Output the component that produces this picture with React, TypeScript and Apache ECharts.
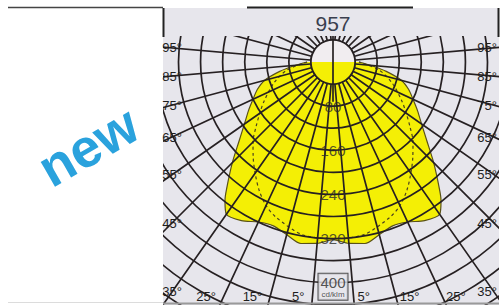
import React, { useEffect, useRef } from "react";
import * as echarts from "echarts";

const titleText = "957";
const unitText = "cd/klm";
const badgeText = "new";
const ringLabels = [80, 160, 240, 320, 400];
// C0-C180 plane: gamma (deg, 0 = straight down) vs intensity (cd/klm)
const gammaMain = [0, 5, 10, 15, 20, 25, 30, 35, 38, 40, 45, 50, 55, 60, 65, 70, 75, 80, 85, 90];
const intensityMain = [322, 330, 334, 324, 316, 320, 332, 337, 318, 300, 258, 222, 196, 177, 160, 146, 128, 98, 68, 47];
// C90-C270 plane (dashed)
const gammaSecond = [0, 10, 20, 25, 30, 35, 40, 45, 50, 55, 60, 70, 80, 90];
const intensitySecond = [320, 318, 300, 287, 268, 246, 225, 205, 182, 162, 145, 115, 85, 47];
const sideAngleLabels = [95, 85, 75, 65, 55, 45, 35];
const bottomAngleLabels = [25, 15, 5];

const CX = 333;
const CY = 62;
const R_MAX = 560;
const R_PX = 309;

const phiOf = (theta: number) => (((theta - 5) % 360) + 360) % 360;

function mirrored(gammas: number[], vals: number[]) {
  const out: number[][] = [];
  for (let i = gammas.length - 1; i >= 0; i--) out.push([vals[i], phiOf(gammas[i])]);
  for (let i = 1; i < gammas.length; i++) out.push([vals[i], phiOf(-gammas[i])]);
  return out;
}

export default function App() {
  const ref = useRef<HTMLDivElement>(null);
  useEffect(() => {
    const chart = echarts.init(ref.current!, null, { renderer: "svg" });
    const gridColor = "#262022";
    const bg = "#e7e6ec";
    const font = "Liberation Sans, Arial, sans-serif";

    const topHalf: number[][] = [];
    for (let t = 90; t <= 270; t += 10) topHalf.push([40, phiOf(t)]);
    const bottomHalf: number[][] = [];
    for (let t = 90; t >= -90; t -= 10) bottomHalf.push([40, phiOf(t)]);

    const graphics: any[] = [
      { type: "rect", z: 0, shape: { x: 163, y: 8, width: 336, height: 297 }, style: { fill: bg } },
      { type: "rect", z: 50, shape: { x: 0, y: 0, width: 163, height: 305 }, style: { fill: "#ffffff" } },
      { type: "rect", z: 50, shape: { x: 0, y: 0, width: 502, height: 8 }, style: { fill: "#ffffff" } },
      { type: "rect", z: 50, shape: { x: 499, y: 0, width: 3, height: 305 }, style: { fill: "#ffffff" } },
      { type: "rect", z: 50, shape: { x: 163, y: 8, width: 336, height: 28 }, style: { fill: bg } },
      { type: "line", z: 51, shape: { x1: 8, y1: 302.5, x2: 163, y2: 302.5 }, style: { stroke: "#dcdcdc", lineWidth: 1 } },
      { type: "line", z: 52, shape: { x1: 8, y1: 7.5, x2: 163, y2: 7.5 }, style: { stroke: "#444", lineWidth: 1.5 } },
      { type: "line", z: 52, shape: { x1: 247, y1: 7.5, x2: 413, y2: 7.5 }, style: { stroke: "#222", lineWidth: 2 } },
      { type: "line", z: 52, shape: { x1: 163.5, y1: 8, x2: 163.5, y2: 37 }, style: { stroke: "#222", lineWidth: 2 } },
      { type: "line", z: 52, shape: { x1: 498.5, y1: 8, x2: 498.5, y2: 37 }, style: { stroke: "#222", lineWidth: 2 } },
      { type: "line", z: 52, shape: { x1: 163, y1: 303.5, x2: 499, y2: 303.5 }, style: { stroke: "#9a9a9a", lineWidth: 2 } },
      {
        type: "text", z: 60, x: CX, y: 23,
        style: { text: titleText, font: `21px ${font}`, fill: "#3a3f4f", align: "center", verticalAlign: "middle", textAlign: "center", textVerticalAlign: "middle" },
      },
      {
        type: "text", z: 60, x: 88, y: 146, rotation: 0.52,
        style: { text: badgeText, font: `bold 54px ${font}`, fill: "#2aa2dd", align: "center", verticalAlign: "middle", textAlign: "center", textVerticalAlign: "middle" },
      },
    ];

    sideAngleLabels.forEach((a) => {
      const y = CY + 161 / Math.tan((a * Math.PI) / 180);
      [172, 487].forEach((x) => {
        graphics.push({
          type: "text", z: 60, x, y,
          style: { text: `${a}°`, font: `13px ${font}`, fill: "#1e1e1e", align: "center", verticalAlign: "middle", textAlign: "center", textVerticalAlign: "middle" },
        });
      });
    });
    bottomAngleLabels.forEach((a) => {
      const dx = 234 * Math.tan((a * Math.PI) / 180);
      graphics.push({
        type: "text", z: 60, x: CX - dx - 8, y: 296,
        style: { text: `${a}°`, font: `13px ${font}`, fill: "#1e1e1e", align: "right", verticalAlign: "middle", textAlign: "right", textVerticalAlign: "middle" },
      });
      graphics.push({
        type: "text", z: 60, x: CX + dx + 4, y: 296,
        style: { text: `${a}°`, font: `13px ${font}`, fill: "#1e1e1e", align: "left", verticalAlign: "middle", textAlign: "left", textVerticalAlign: "middle" },
      });
    });

    const lastRing = ringLabels[ringLabels.length - 1];
    const ringData = ringLabels.map((v) =>
      v === lastRing
        ? {
            value: [v, phiOf(0)],
            label: {
              formatter: `{v|${v}}\n{u|${unitText}}`,
              backgroundColor: bg, borderColor: "#2a2a2a", borderWidth: 1,
              padding: [1, 2, 0, 2], offset: [0, 4],
            },
          }
        : { value: [v, phiOf(0)] }
    );

    const option: any = {
      animation: false,
      backgroundColor: "#ffffff",
      polar: { center: [CX, CY], radius: R_PX },
      angleAxis: {
        type: "value", min: 0, max: 360, interval: 10, startAngle: -95, clockwise: true, z: 5,
        axisLine: { show: false }, axisTick: { show: false }, axisLabel: { show: false },
        splitLine: { show: true, lineStyle: { color: gridColor, width: 1.7 } },
      },
      radiusAxis: {
        type: "value", min: 0, max: R_MAX, interval: 40, z: 5,
        axisLine: { show: false }, axisTick: { show: false }, axisLabel: { show: false },
        splitLine: { show: true, lineStyle: { color: gridColor, width: 1.7 } },
      },
      series: [
        {
          type: "line", coordinateSystem: "polar", z: 2, symbol: "none", smooth: 0.25,
          data: mirrored(gammaMain, intensityMain),
          lineStyle: { color: "#5a5218", width: 1.2 },
          areaStyle: { color: "#f4ef05", opacity: 1 },
        },
        {
          type: "line", coordinateSystem: "polar", z: 3, symbol: "none", smooth: 0.3,
          data: mirrored(gammaSecond, intensitySecond),
          lineStyle: { color: "#4a4020", width: 1.2, type: [3, 3] },
        },
        {
          type: "line", coordinateSystem: "polar", z: 6, symbol: "none", smooth: true,
          data: topHalf,
          lineStyle: { color: gridColor, width: 1.7 },
          areaStyle: { color: "#f1edf0", opacity: 1 },
        },
        {
          type: "line", coordinateSystem: "polar", z: 6, symbol: "none", smooth: true,
          data: bottomHalf,
          lineStyle: { color: gridColor, width: 1.7 },
          areaStyle: { color: "#f4ef05", opacity: 1 },
        },
        {
          type: "line", coordinateSystem: "polar", z: 7, symbol: "none",
          data: [[60, phiOf(180)], [0, phiOf(0)], [72, phiOf(0)]],
          lineStyle: { color: gridColor, width: 1.7 },
        },
        {
          type: "scatter", coordinateSystem: "polar", z: 8, symbolSize: 1,
          itemStyle: { color: "rgba(0,0,0,0)" },
          data: ringData,
          label: {
            show: true, position: "inside", color: "#2a2a2a", fontSize: 15, fontFamily: font,
            formatter: (p: any) => `${p.value[0]}`,
            rich: {
              v: { fontSize: 15, color: "#2a2a2a", fontFamily: font, lineHeight: 15 },
              u: { fontSize: 8, color: "#2a2a2a", fontFamily: font, lineHeight: 10 },
            },
          },
        },
      ],
      graphic: { elements: graphics },
    };
    chart.setOption(option);
    return () => chart.dispose();
  }, []);
  return <div ref={ref} style={{ position: "fixed", left: 0, top: 0, width: 502, height: 305 }} />;
}
